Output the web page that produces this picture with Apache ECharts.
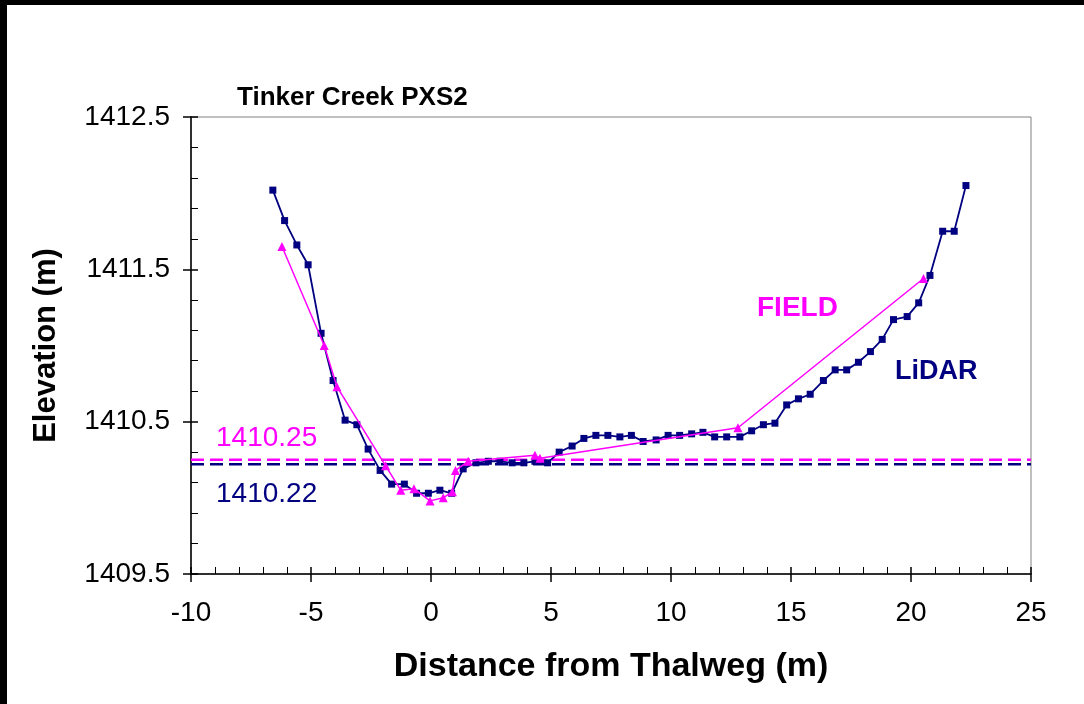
<!DOCTYPE html>
<html>
<head>
<meta charset="utf-8">
<script src="https://cdn.jsdelivr.net/npm/echarts@6/dist/echarts.min.js"></script>
<style>
html,body{margin:0;padding:0;background:#fff;}
#c{width:1084px;height:704px;}
</style>
</head>
<body>
<div id="c"></div>
<script>
// LiDAR profile
const lidarX = [-6.59,-6.10,-5.59,-5.12,-4.58,-4.08,-3.58,-3.09,-2.62,-2.12,-1.64,-1.11,-0.60,-0.11,0.37,0.86,1.34,1.87,2.39,2.87,3.38,3.87,4.33,4.86,5.34,5.88,6.37,6.87,7.37,7.87,8.35,8.84,9.38,9.88,10.36,10.86,11.33,11.82,12.32,12.87,13.36,13.85,14.33,14.82,15.31,15.80,16.35,16.84,17.32,17.81,18.31,18.80,19.27,19.84,20.32,20.79,21.32,21.80,22.29];
const lidarY = [1412.02,1411.82,1411.66,1411.53,1411.08,1410.77,1410.51,1410.48,1410.32,1410.18,1410.09,1410.09,1410.03,1410.03,1410.05,1410.03,1410.19,1410.23,1410.24,1410.24,1410.23,1410.23,1410.24,1410.23,1410.30,1410.34,1410.39,1410.41,1410.41,1410.40,1410.41,1410.37,1410.38,1410.41,1410.41,1410.42,1410.43,1410.40,1410.40,1410.40,1410.44,1410.48,1410.49,1410.61,1410.65,1410.68,1410.77,1410.84,1410.84,1410.89,1410.96,1411.04,1411.17,1411.19,1411.28,1411.46,1411.75,1411.75,1412.05];
// FIELD survey
const fieldX = [-6.21,-4.45,-3.92,-1.89,-1.26,-0.71,-0.04,0.51,0.89,1.02,1.55,4.33,4.54,12.79,20.52];
const fieldY = [1411.65,1411.00,1410.73,1410.21,1410.05,1410.06,1409.98,1410.00,1410.04,1410.18,1410.24,1410.28,1410.26,1410.46,1411.44];
// water surface levels
const fieldWSE = 1410.25;
const lidarWSE = 1410.22;
const xRange = [-10, 25];
const yRange = [1409.5, 1412.5];
const titleText = 'Tinker Creek PXS2';
const xName = 'Distance from Thalweg (m)';
const yName = 'Elevation (m)';

const NAVY = '#000080', MAG = '#FF00FF';
const FONT = 'Liberation Sans, Arial, sans-serif';
const zip = (a, b) => a.map((v, i) => [v, b[i]]);

const chart = echarts.init(document.getElementById('c'), null, {renderer: 'canvas'});
const baseX = {
  type: 'value', min: xRange[0], max: xRange[1], interval: 5, gridIndex: 0
};
const baseY = {
  type: 'value', min: yRange[0], max: yRange[1], interval: 1, gridIndex: 0
};
chart.setOption({
  animation: false,
  backgroundColor: '#fff',
  grid: {left: 191, right: 53, top: 117, bottom: 130, show: true, borderColor: '#808080', borderWidth: 1, backgroundColor: '#fff'},
  title: {text: titleText, left: 232, top: 80, textStyle: {fontFamily: FONT, fontWeight: 'bold', fontSize: 26, color: '#000'}},
  xAxis: [
    Object.assign({}, baseX, {
      position: 'bottom',
      name: xName, nameLocation: 'middle', nameGap: 76,
      nameTextStyle: {fontFamily: FONT, fontWeight: 'bold', fontSize: 34, color: '#000'},
      axisLine: {show: true, onZero: false, lineStyle: {color: '#000', width: 1.5}},
      axisTick: {show: true, inside: true, length: 7, lineStyle: {color: '#000', width: 1.5}},
      minorTick: {show: true, splitNumber: 5, length: 7, lineStyle: {color: '#000', width: 1}},
      axisLabel: {fontFamily: FONT, fontSize: 28, color: '#000', margin: 25},
      splitLine: {show: false}
    }),
    Object.assign({}, baseX, {
      position: 'bottom',
      axisLine: {show: false, onZero: false},
      axisTick: {show: true, inside: false, length: 8, lineStyle: {color: '#000', width: 1.5}},
      axisLabel: {show: false},
      splitLine: {show: false}
    })
  ],
  yAxis: [
    Object.assign({}, baseY, {
      position: 'left',
      name: yName, nameLocation: 'middle', nameGap: 129,
      nameTextStyle: {fontFamily: FONT, fontWeight: 'bold', fontSize: 31, color: '#000'},
      axisLine: {show: true, onZero: false, lineStyle: {color: '#000', width: 1.5}},
      axisTick: {show: true, inside: true, length: 7, lineStyle: {color: '#000', width: 1.5}},
      minorTick: {show: true, splitNumber: 5, length: 7, lineStyle: {color: '#000', width: 1}},
      axisLabel: {fontFamily: FONT, fontSize: 28, color: '#000', margin: 21, formatter: v => v.toFixed(1)},
      splitLine: {show: false}
    }),
    Object.assign({}, baseY, {
      position: 'left',
      axisLine: {show: false, onZero: false},
      axisTick: {show: true, inside: false, length: 8, lineStyle: {color: '#000', width: 1.5}},
      axisLabel: {show: false},
      splitLine: {show: false}
    })
  ],
  series: [
    {
      name: 'FIELD WSE', type: 'line', xAxisIndex: 0, yAxisIndex: 0, symbol: 'none',
      data: [[xRange[0], fieldWSE], [xRange[1], fieldWSE]],
      lineStyle: {color: MAG, width: 2.5, type: [13, 6]}, z: 2
    },
    {
      name: 'LiDAR WSE', type: 'line', xAxisIndex: 0, yAxisIndex: 0, symbol: 'none',
      data: [[xRange[0], lidarWSE], [xRange[1], lidarWSE]],
      lineStyle: {color: NAVY, width: 2.5, type: [13, 6]}, z: 2
    },
    {
      name: 'LiDAR', type: 'line', xAxisIndex: 0, yAxisIndex: 0,
      data: zip(lidarX, lidarY),
      symbol: 'rect', symbolSize: 7,
      itemStyle: {color: NAVY}, lineStyle: {color: NAVY, width: 1.8}, z: 3
    },
    {
      name: 'FIELD', type: 'line', xAxisIndex: 0, yAxisIndex: 0,
      data: zip(fieldX, fieldY),
      symbol: 'triangle', symbolSize: 9,
      itemStyle: {color: MAG}, lineStyle: {color: MAG, width: 1.5}, z: 4
    }
  ],
  graphic: [
    {type: 'rect', left: 0, top: 0, shape: {width: 1084, height: 5}, style: {fill: '#000'}, z: 100},
    {type: 'rect', left: 0, top: 0, shape: {width: 7, height: 704}, style: {fill: '#000'}, z: 100},
    {type: 'text', left: 216, top: 424, style: {text: '1410.25', fill: MAG, font: '28px ' + FONT}, z: 50},
    {type: 'text', left: 216, top: 480, style: {text: '1410.22', fill: NAVY, font: '28px ' + FONT}, z: 50},
    {type: 'text', left: 757, top: 294, style: {text: 'FIELD', fill: MAG, font: 'bold 28px ' + FONT}, z: 50},
    {type: 'text', left: 895, top: 358, style: {text: 'LiDAR', fill: NAVY, font: 'bold 27px ' + FONT}, z: 50}
  ]
});
</script>
</body>
</html>
